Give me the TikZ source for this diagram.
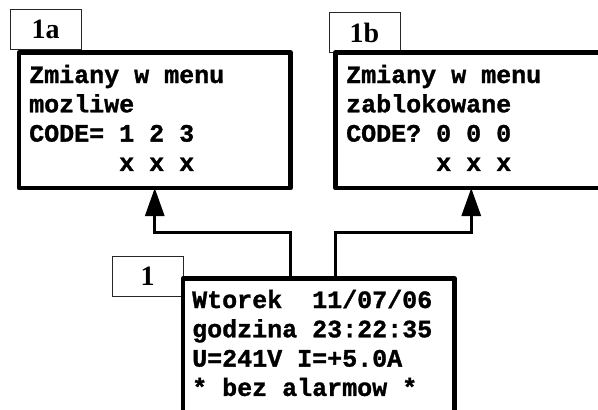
\documentclass[tikz,border=0pt]{standalone}
\usepackage{fontspec}
\newfontfamily\lcdfont{Liberation Mono}[UprightFont={* Bold}, FakeBold=1.2]
\newfontfamily\tagfont{Liberation Serif}[UprightFont={* Bold}]
\usetikzlibrary{arrows.meta}
\begin{document}
\begin{tikzpicture}[x=1pt,y=-1pt,
  display/.style={draw, line width=4.5pt, line join=round, rectangle,
    outer sep=0pt, inner sep=0pt, minimum width=271.5pt,
    minimum height=135.5pt, anchor=north west},
  tag/.style={draw=black!85, line width=0.9pt, fill=white, rectangle,
    outer sep=0pt, inner sep=0pt, minimum width=71pt, minimum height=40pt,
    anchor=north west, font=\tagfont\fontsize{28}{28}\selectfont},
  lcd/.style={anchor=base west, inner sep=0pt,
    font=\lcdfont\fontsize{25}{29}\selectfont},
  link/.style={line width=3pt},
  up/.style={link, -{Triangle[length=28pt,width=19pt]}}]
\clip (0,0) rectangle (598,410);

% screen numbers
\node[tag] (ta) at (10,9.5) {1a};
\node[tag] (tb) at (329,12.5) {1b};
\node[tag] (tm) at (112,256) {1};

% display frames
\node[display] (a) at (19,52.5) {};
\node[display] (b) at (335.5,52.5) {};
\node[display] (m) at (183,278.5) {};

% display contents
\foreach \t [count=\i] in {Zmiany w menu, mozliwe, CODE= 1 2 3, \phantom{CODE= }x x x}
  \node[lcd] (a\i) at (29,{83+(\i-1)*29.3}) {\t};
\foreach \t [count=\i] in {Zmiany w menu, zablokowane, CODE? 0 0 0, \phantom{CODE? }x x x}
  \node[lcd] (b\i) at (346,{83+(\i-1)*29.3}) {\t};
\foreach \t [count=\i] in {Wtorek\ \ 11/07/06, godzina 23:22:35, U=241V I=+5.0A, * bez alarmow *}
  \node[lcd] (m\i) at (192,{308+(\i-1)*29.3}) {\t};

% transitions
\draw[up] (m.north -| a.east) -- ++(0,-46) -| (a.south);
\draw[up] (m.north -| b.west) -- ++(0,-46) -| (b.south);
\end{tikzpicture}
\end{document}
